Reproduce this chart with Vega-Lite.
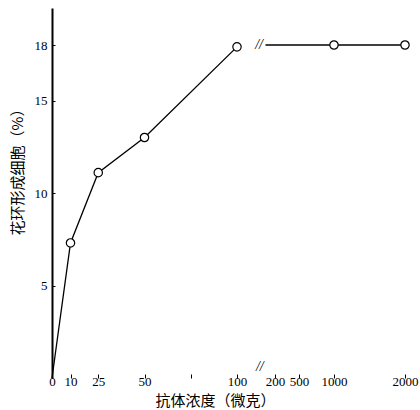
{
  "$schema": "https://vega.github.io/schema/vega-lite/v6.json",
  "autosize": "none",
  "width": 365,
  "height": 370,
  "padding": {"left": 52, "top": 8, "right": 3, "bottom": 32},
  "background": "white",
  "config": {"view": {"stroke": null}},
  "datasets": {
    "pts": [
      {"conc": 0, "pct": 0, "seg": "A", "marker": false},
      {"conc": 10, "pct": 7.3, "seg": "A", "marker": true},
      {"conc": 25, "pct": 11.1, "seg": "A", "marker": true},
      {"conc": 50, "pct": 13.0, "seg": "A", "marker": true},
      {"conc": 100, "pct": 17.9, "seg": "A", "marker": true},
      {"conc": 175, "pct": 18.0, "seg": "B", "marker": false},
      {"conc": 1000, "pct": 18.0, "seg": "B", "marker": true},
      {"conc": 2000, "pct": 18.0, "seg": "B", "marker": true}
    ],
    "breaks": [
      {"conc": 160, "pct": 0.6},
      {"conc": 158, "pct": 18}
    ],
    "axisline": [
      {"a": 0, "b": 1157, "kind": "solid"},
      {"a": 1157, "b": 1514, "kind": "dashed"},
      {"a": 1514, "b": 2100, "kind": "solid"}
    ]
  },
  "encoding": {
    "x": {
      "field": "conc",
      "type": "quantitative",
      "scale": {
        "domain": [0, 100, 200, 500, 1000, 2000, 2100],
        "range": [0, 185, 223, 247, 282, 353, 365],
        "nice": false,
        "zero": false
      },
      "axis": {
        "values": [0, 10, 25, 50, 75, 100, 200, 500, 1000, 2000],
        "labelExpr": "datum.value == 75 ? '' : datum.label",
        "format": "d",
        "domain": false,
        "grid": false,
        "tickSize": -4,
        "tickColor": "black",
        "tickWidth": 1,
        "labelPadding": 1,
        "labelFont": "Liberation Serif",
        "labelFontSize": 13,
        "labelColor": "black",
        "labelFlush": false,
        "labelOverlap": false,
        "labelBound": false,
        "title": "抗体浓度（微克）",
        "titleFont": "Noto Sans CJK SC",
        "titleFontSize": 15,
        "titleFontWeight": "normal",
        "titleColor": "black",
        "titleX": 163,
        "titleY": 15,
        "titleBaseline": "top",
        "titleAnchor": "middle"
      }
    },
    "y": {
      "field": "pct",
      "type": "quantitative",
      "scale": {"domain": [0, 20], "nice": false},
      "axis": {
        "values": [5, 10, 15, 18],
        "domain": true,
        "domainColor": "black",
        "domainWidth": 2,
        "grid": false,
        "tickSize": -3,
        "tickColor": "black",
        "labelPadding": 8,
        "labelFont": "Liberation Serif",
        "labelFontSize": 13,
        "labelColor": "black",
        "title": "花环形成细胞（%）",
        "titleFont": "Noto Sans CJK SC",
        "titleFontSize": 15,
        "titleFontWeight": "normal",
        "titleColor": "black",
        "titleX": -35,
        "titleY": 160,
        "titleBaseline": "middle",
        "titleAnchor": "middle"
      }
    }
  },
  "layer": [
    {
      "data": {"name": "axisline"},
      "transform": [{"filter": "datum.kind == 'solid'"}],
      "mark": {"type": "rule", "color": "black", "strokeWidth": 1.5},
      "encoding": {
        "x": {"field": "a", "type": "quantitative"},
        "x2": {"field": "b"},
        "y": {"datum": 0}
      }
    },
    {
      "data": {"name": "axisline"},
      "transform": [{"filter": "datum.kind == 'dashed'"}],
      "mark": {"type": "rule", "color": "black", "strokeWidth": 1.5, "strokeDash": [5, 3]},
      "encoding": {
        "x": {"field": "a", "type": "quantitative"},
        "x2": {"field": "b"},
        "y": {"datum": 0}
      }
    },
    {
      "data": {"name": "pts"},
      "mark": {"type": "line", "color": "black", "strokeWidth": 1.3},
      "encoding": {"detail": {"field": "seg"}}
    },
    {
      "data": {"name": "pts"},
      "transform": [{"filter": "datum.marker"}],
      "mark": {"type": "point", "shape": "circle", "filled": true, "fill": "white", "stroke": "black", "strokeWidth": 1.2, "size": 70, "opacity": 1}
    },
    {
      "data": {"name": "breaks"},
      "mark": {"type": "text", "text": "//", "font": "Liberation Serif", "fontStyle": "italic", "fontSize": 14, "color": "black", "baseline": "middle", "align": "center"}
    }
  ]
}
